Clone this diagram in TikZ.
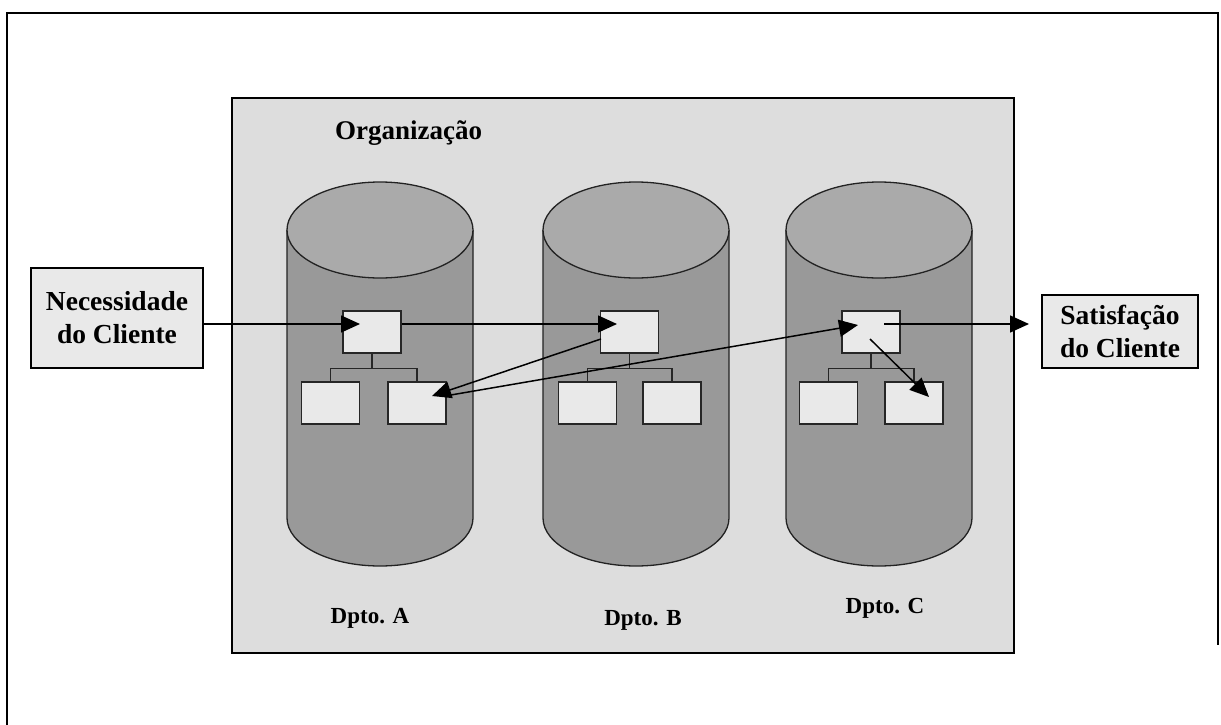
\documentclass[tikz,border=0pt]{standalone}
\usepackage{fontspec}
\setmainfont{Liberation Serif}
\usetikzlibrary{arrows.meta}
\definecolor{orgbg}{HTML}{DDDDDD}
\definecolor{cylbody}{HTML}{999999}
\definecolor{cyltop}{HTML}{AAAAAA}
\definecolor{boxbg}{HTML}{E9E9E9}
\definecolor{cylline}{HTML}{222222}
\tikzset{
  outbox/.style={draw=black, fill=boxbg, line width=1.5pt, inner sep=0pt, align=center,
    font=\fontsize{27.5}{33}\selectfont\bfseries},
  sbox/.style={draw=black!85, fill=boxbg, line width=1.5pt, minimum width=58pt, minimum height=42pt, inner sep=0pt},
  arr/.style={line width=1.5pt, -{Triangle[length=19pt,width=17pt]}},
  tree/.style={line width=1.2pt, draw=black!85},
  dlabel/.style={font=\fontsize{23}{27}\selectfont\bfseries, anchor=base, inner sep=0pt},
  cylout/.style={draw=cylline, line width=1.3pt}
}
\newcommand{\mycyl}[1]{%
  \fill[cylbody] (#1-93,230) -- (#1-93,518) arc[start angle=180,end angle=360,x radius=93pt,y radius=48pt] -- (#1+93,230) -- cycle;
  \draw[cylout] (#1-93,230) -- (#1-93,518) arc[start angle=180,end angle=360,x radius=93pt,y radius=48pt] -- (#1+93,230);
  \draw[cylout, fill=cyltop] (#1,230) ellipse [x radius=93pt, y radius=48pt];
}
\begin{document}
\begin{tikzpicture}[x=1pt,y=-1pt]
\useasboundingbox (0,0) rectangle (1221,725);
\fill[white] (0,0) rectangle (1221,725);
% outer frame
\draw[line width=2pt] (7,725) -- (7,13) -- (1218,13) -- (1218,645);
% organisation box
\node[draw=black, fill=orgbg, line width=2pt, minimum width=782pt, minimum height=555pt, inner sep=0pt, anchor=north west] (org) at (231,97) {};
\node[font=\fontsize{27}{32}\selectfont\bfseries, anchor=base west, inner sep=0pt] (orgl) at (335,139) {Organização};
% cylinders
\mycyl{380}
\mycyl{636}
\mycyl{879}
% outer boxes
\node[outbox, minimum width=172pt, minimum height=100pt] (need) at (117,318) {Necessidade\\do Cliente};
\node[outbox, minimum width=156pt, minimum height=73pt] (sat) at (1120,331.5) {Satisfação\\do Cliente};
% small boxes A
\node[sbox] (at) at (372,332) {};
\node[sbox] (abl) at (330.5,403) {};
\node[sbox] (abr) at (417,403) {};
% B
\node[sbox] (bt) at (629.5,332) {};
\node[sbox] (bbl) at (587.5,403) {};
\node[sbox] (bbr) at (672,403) {};
% C
\node[sbox] (ct) at (871,332) {};
\node[sbox] (cbl) at (828.5,403) {};
\node[sbox] (cbr) at (914,403) {};
% tree connectors
\draw[tree] (at.south) -- ++(0,15) coordinate (aj);
\draw[tree] (abl.north) |- (aj) -| (abr.north);
\draw[tree] (bt.south) -- ++(0,15) coordinate (bj);
\draw[tree] (bbl.north) |- (bj) -| (bbr.north);
\draw[tree] (ct.south) -- ++(0,15) coordinate (cj);
\draw[tree] (cbl.north) |- (cj) -| (cbr.north);
% arrow coordinates
\coordinate (atip) at (360,324);
\coordinate (btip) at (617,324);
\coordinate (cstart) at (884,324);
\coordinate (sattip) at (1029,324);
\coordinate (bstart) at (601,339);
\coordinate (abrtip) at (432,396);
\coordinate (abrstart) at (445,396);
\coordinate (ctip) at (858,325);
\coordinate (cin) at (870,339);
\coordinate (cbrtip) at (929,397);
% arrows
\draw[arr] (need.east |- atip) -- (atip);
\draw[arr] (at.east |- btip) -- (btip);
\draw[arr] (cstart) -- (sattip);
\draw[arr] (bstart) -- (abrtip);
\draw[arr] (abrstart) -- (ctip);
\draw[arr] (cin) -- (cbrtip);
% labels
\node[dlabel] (la) at (370,623) {Dpto. A};
\node[dlabel] (lb) at (643,625) {Dpto. B};
\node[dlabel] (lc) at (885,613) {Dpto. C};
\end{tikzpicture}
\end{document}
